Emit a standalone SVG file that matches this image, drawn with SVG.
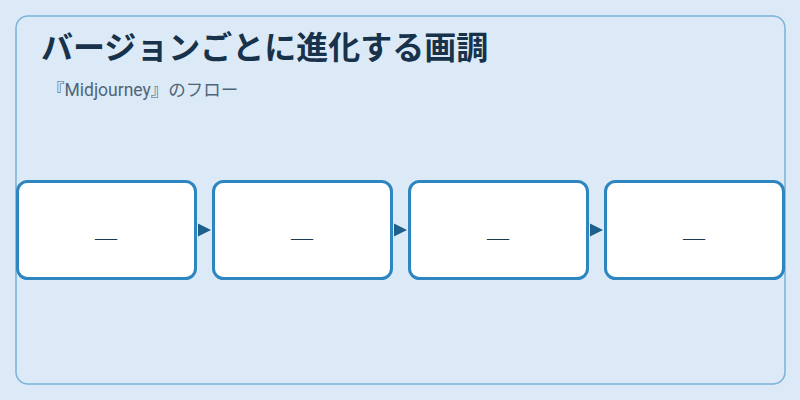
<svg xmlns="http://www.w3.org/2000/svg" width="800" height="400" viewBox="0 0 800 400">
<style>
.node rect{fill:#ffffff;stroke:#2e86c1;stroke-width:3}
.lbl{font-family:"Liberation Serif",serif;font-size:22px;fill:#1b3a4e;text-anchor:middle}
.title{font-family:"Noto Sans CJK JP",sans-serif;font-weight:bold;font-size:32px;fill:#17324a}
.sub{font-family:Roboto,"Noto Sans CJK JP",sans-serif;font-size:17.5px;fill:#4f6579}
</style>
<defs>
<marker id="ah" viewBox="0 0 10 10" refX="10" refY="5" markerWidth="13" markerHeight="16" markerUnits="userSpaceOnUse" orient="auto">
<path d="M0,0 L10,5 L0,10 Z" fill="#1f5f8b"/>
</marker>
</defs>
<rect x="0" y="0" width="800" height="400" fill="#dbeaf6"/>
<rect x="16" y="16" width="769" height="368" rx="12" fill="#dbeaf6" stroke="#7ab3d6" stroke-width="1.5"/>
<text class="title" x="41" y="59">バージョンごとに進化する画調</text>
<text class="sub" x="47" y="96">『Midjourney』のフロー</text>
<g id="connectors">
<line x1="198" y1="230" x2="211" y2="230" stroke="#1f5f8b" stroke-width="0" marker-end="url(#ah)"/>
<line x1="394" y1="230" x2="407" y2="230" stroke="#1f5f8b" stroke-width="0" marker-end="url(#ah)"/>
<line x1="590" y1="230" x2="603" y2="230" stroke="#1f5f8b" stroke-width="0" marker-end="url(#ah)"/>
</g>
<g id="node1" class="node"><rect x="17.5" y="181.5" width="178" height="97" rx="10"/><text class="lbl" x="106" y="244.5">—</text></g>
<g id="node2" class="node"><rect x="213.5" y="181.5" width="178" height="97" rx="10"/><text class="lbl" x="302" y="244.5">—</text></g>
<g id="node3" class="node"><rect x="409.5" y="181.5" width="178" height="97" rx="10"/><text class="lbl" x="498" y="244.5">—</text></g>
<g id="node4" class="node"><rect x="605.5" y="181.5" width="178" height="97" rx="10"/><text class="lbl" x="694" y="244.5">—</text></g>
</svg>
